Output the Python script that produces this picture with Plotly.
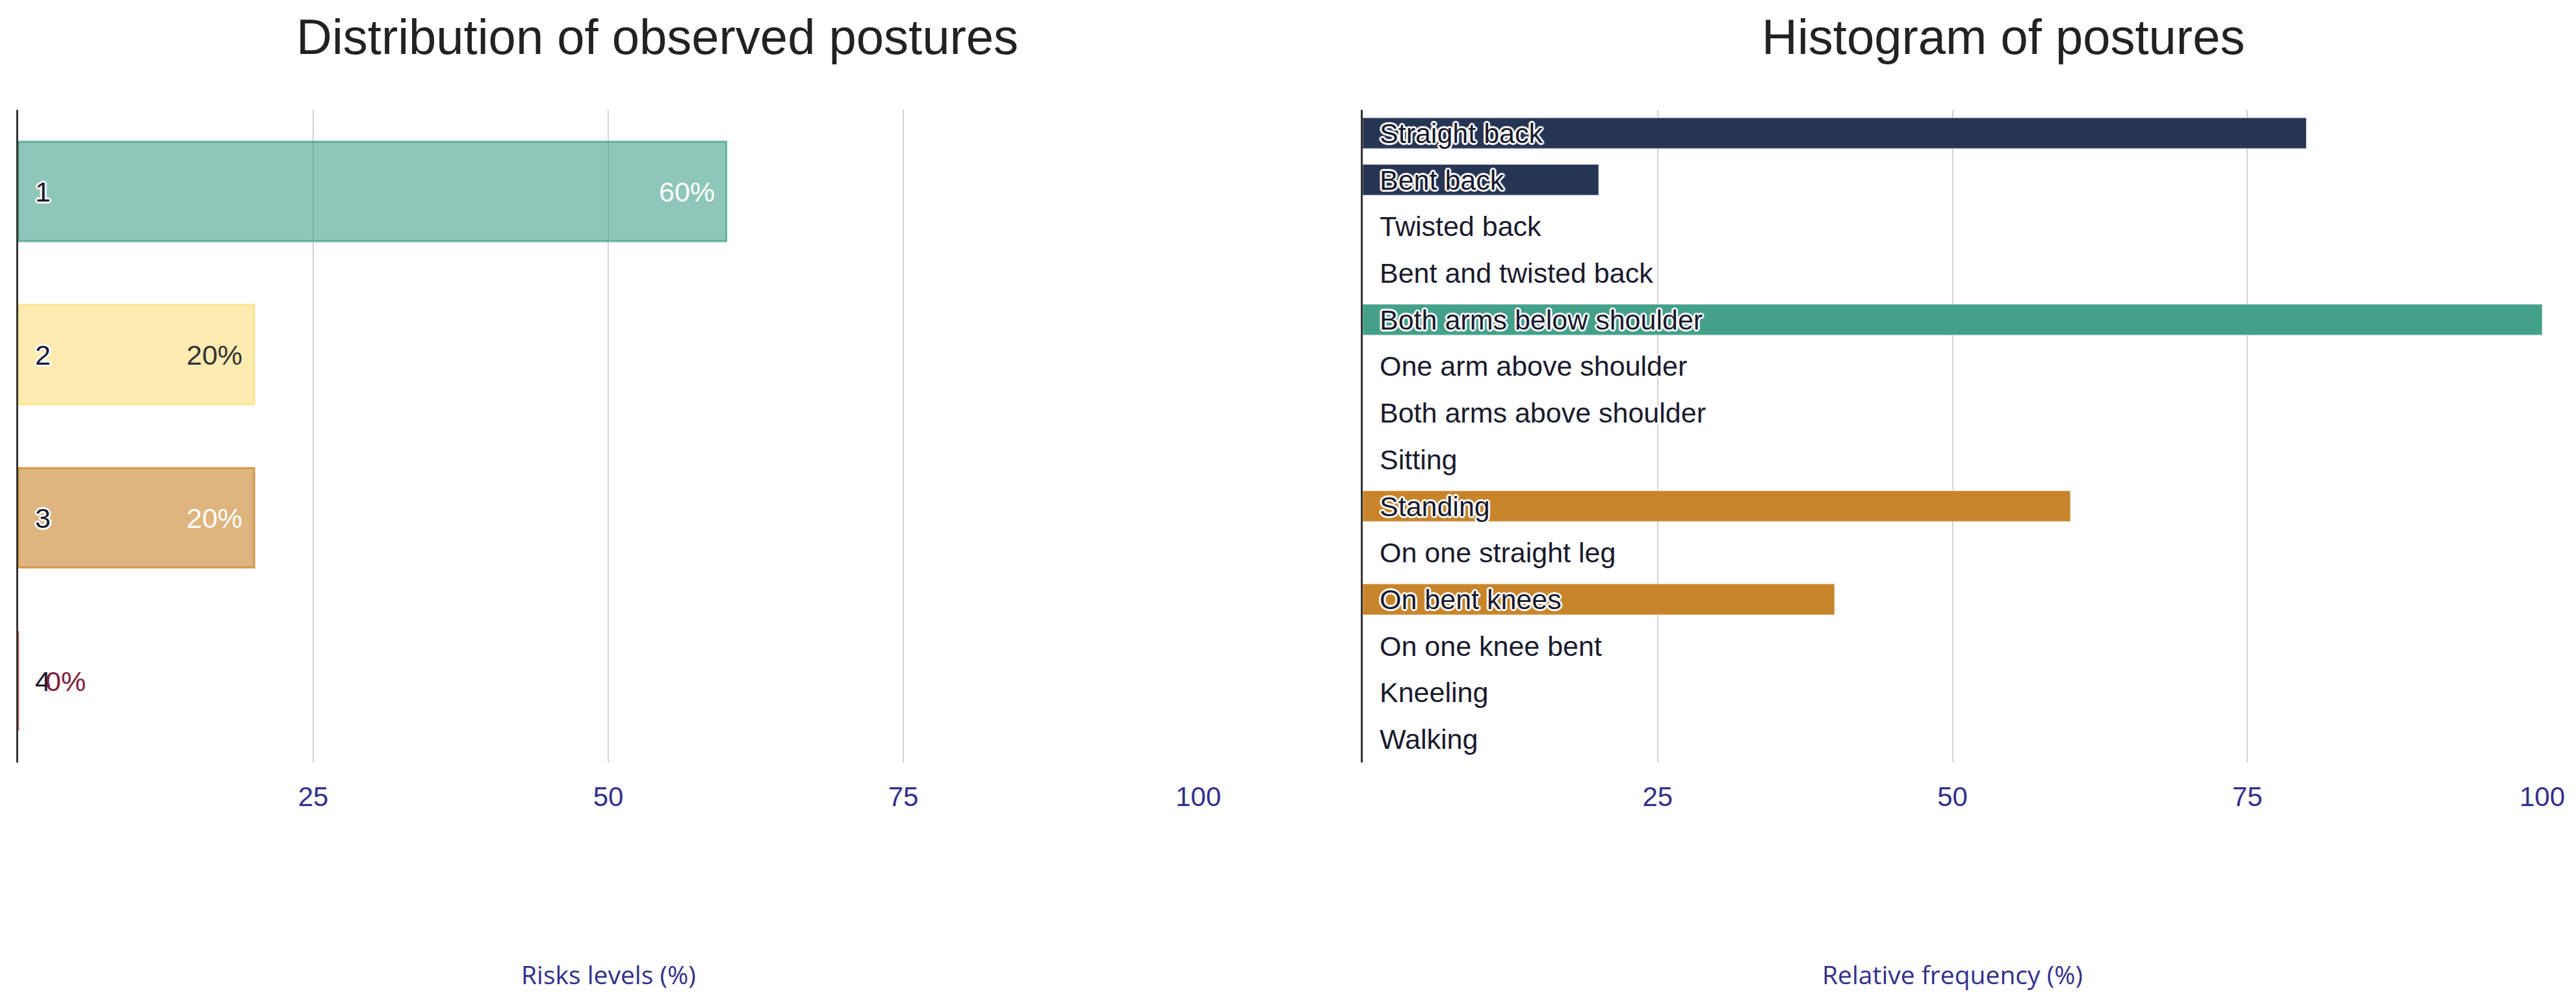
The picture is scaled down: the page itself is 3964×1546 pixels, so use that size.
import plotly.graph_objects as go

# ---- data ----
risk_levels = ["1", "2", "3", "4"]
risk_values = [60, 20, 20, 0]

postures = ["Straight back", "Bent back", "Twisted back", "Bent and twisted back",
            "Both arms below shoulder", "One arm above shoulder", "Both arms above shoulder",
            "Sitting", "Standing", "On one straight leg", "On bent knees",
            "On one knee bent", "Kneeling", "Walking"]
posture_values = [80, 20, 0, 0, 100, 0, 0, 0, 60, 0, 40, 0, 0, 0]
posture_groups = ["back", "back", "back", "back", "arms", "arms", "arms",
                  "legs", "legs", "legs", "legs", "legs", "legs", "legs"]

x_ticks = [25, 50, 75, 100]

# ---- styles ----
risk_fill = ["rgba(67,160,138,0.6)", "rgba(252,222,125,0.6)", "rgba(200,132,42,0.6)", "rgba(200,60,60,0.6)"]
risk_line = ["rgba(67,160,138,0.75)", "rgba(252,222,125,0.75)", "rgba(200,132,42,0.75)", "rgba(200,60,60,0.75)"]
risk_text_color = ["#ffffff", "#333333", "#ffffff", "#80203a"]
group_colors = {"back": "#263554", "arms": "#45a08a", "legs": "#c8842a"}

FONT = "Liberation Sans, Arial, sans-serif"
AX_COLOR = "#33308a"
_offs = [(3, 0), (-3, 0), (0, 3), (0, -3), (2, 2), (-2, -2), (2, -2), (-2, 2)]
HALO = ", ".join(f"{a}px {b}px 1px #fff" for a, b in _offs)

W, H = 3964, 1546
y_dom = [(H - 1173) / H, (H - 169) / H]

fig = go.Figure()

fig.add_trace(go.Bar(
    x=risk_values, y=risk_levels, orientation="h", xaxis="x", yaxis="y",
    marker=dict(color=risk_fill, line=dict(color=risk_line, width=3)),
    width=0.61, showlegend=False, hoverinfo="x+y",
))

fig.add_trace(go.Bar(
    x=posture_values, y=postures, orientation="h", xaxis="x2", yaxis="y2",
    marker=dict(color=[group_colors[g] for g in posture_groups],
                line=dict(color="rgba(255,255,255,0.25)", width=2)),
    width=0.66, showlegend=False, hoverinfo="x+y",
))

annotations = []
# category labels (left) -- category axis positions are indices
for i, lvl in enumerate(risk_levels):
    annotations.append(dict(x=0, y=i, xref="x", yref="y", text=lvl, showarrow=False,
                            xanchor="left", xshift=24,
                            font=dict(family=FONT, size=43, color="#1a1a2e", shadow=HALO)))
# value labels (left)
for i, (v, c) in enumerate(zip(risk_values, risk_text_color)):
    if v > 0:
        annotations.append(dict(x=v, y=i, xref="x", yref="y", text=f"{v}%", showarrow=False,
                                xanchor="right", xshift=-16,
                                font=dict(family=FONT, size=43, color=c)))
    else:
        annotations.append(dict(x=v, y=i, xref="x", yref="y", text=f"{v}%", showarrow=False,
                                xanchor="left", xshift=40,
                                font=dict(family=FONT, size=43, color=c)))
# category labels (right)
for i, p in enumerate(postures):
    annotations.append(dict(x=0, y=i, xref="x2", yref="y2", text=p, showarrow=False,
                            xanchor="left", xshift=24,
                            font=dict(family=FONT, size=43, color="#1a1a2e", shadow=HALO)))
# titles
annotations.append(dict(x=1011 / W, y=(H - 56) / H, xref="paper", yref="paper",
                        text="Distribution of observed postures", showarrow=False,
                        xanchor="center", yanchor="middle",
                        font=dict(family=FONT, size=76, color="#222222")))
annotations.append(dict(x=3082 / W, y=(H - 56) / H, xref="paper", yref="paper",
                        text="Histogram of postures", showarrow=False,
                        xanchor="center", yanchor="middle",
                        font=dict(family=FONT, size=76, color="#222222")))
# axis titles
annotations.append(dict(x=0.5, y=(H - 1498) / H, xref="x domain", yref="paper",
                        text="Risks levels (%)", showarrow=False, yanchor="middle",
                        font=dict(family="Open Sans, sans-serif", size=39, color=AX_COLOR)))
annotations.append(dict(x=0.5, y=(H - 1498) / H, xref="x2 domain", yref="paper",
                        text="Relative frequency (%)", showarrow=False, yanchor="middle",
                        font=dict(family="Open Sans, sans-serif", size=39, color=AX_COLOR)))

xcommon = dict(range=[0, 100], tickvals=x_ticks, ticktext=[str(t) for t in x_ticks],
               showgrid=True, gridcolor="#d3d3d3", gridwidth=2, zeroline=False,
               showline=False, ticks="", ticklabelstandoff=24, automargin=False,
               tickfont=dict(family=FONT, size=42, color=AX_COLOR), fixedrange=True)
ycommon = dict(type="category", showticklabels=False, showgrid=False, zeroline=False, showline=True,
               linecolor="#333333", linewidth=3, autorange="reversed", ticks="", automargin=False,
               domain=y_dom, fixedrange=True)

fig.update_layout(
    width=W, height=H, autosize=False,
    margin=dict(l=0, r=0, t=0, b=0, pad=0),
    paper_bgcolor="white", plot_bgcolor="white",
    xaxis=dict(domain=[28 / W, 1844 / W], anchor="y", layer="above traces", **xcommon),
    xaxis2=dict(domain=[2097 / W, 3912 / W], anchor="y2", **xcommon),
    yaxis=dict(anchor="x", **ycommon),
    yaxis2=dict(anchor="x2", **ycommon),
    bargap=0.3,
    annotations=annotations,
)

post = ("document.body.style.margin='0';document.body.style.overflow='hidden';"
        "var gd=document.getElementById('{plot_id}');"
        "Plotly.relayout(gd,{width:%d,height:%d});" % (W, H))

fig.write_html("out.html", config={"responsive": False, "displayModeBar": False}, post_script=post)
